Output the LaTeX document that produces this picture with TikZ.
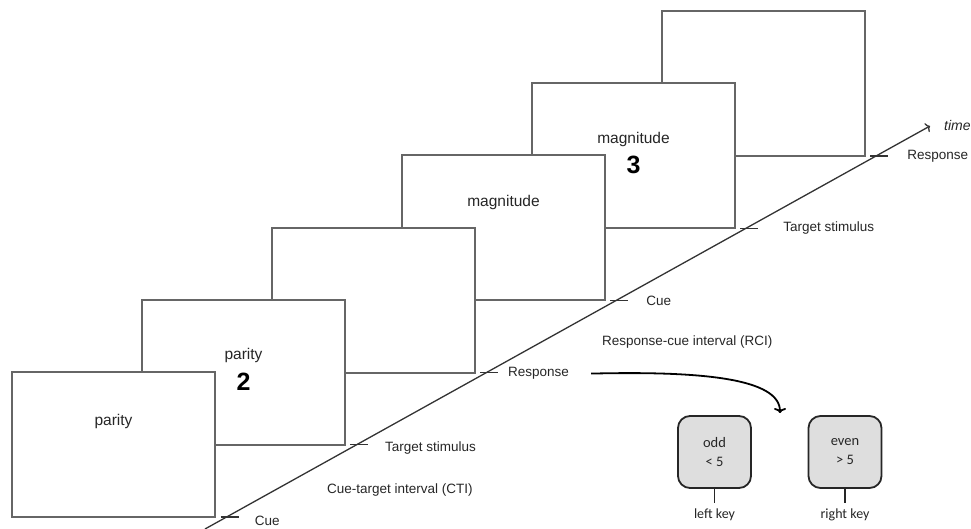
\documentclass[tikz,border=0pt]{standalone}
\usepackage{fontspec}
\setmainfont{Liberation Sans}
\newfontfamily\keyfont{Carlito}
\usetikzlibrary{calc,positioning,arrows.meta}

\tikzset{
  screen/.style={draw=black!60, line width=1.9pt, fill=white, minimum width=203pt, minimum height=145pt, inner sep=0pt},
  cuetext/.style={font=\fontsize{15.5}{18}\selectfont, text=black!85, inner sep=0pt},
  digit/.style={font=\fontsize{25}{28}\selectfont\bfseries, text=black, inner sep=0pt},
  evtlabel/.style={font=\fontsize{13.5}{16}\selectfont, text=black!85, anchor=west, inner sep=0pt},
  timeline/.style={draw=black!80, line width=1.3pt},
  keybox/.style={draw=black!85, line width=1.8pt, fill=black!13, rounded corners=12pt, minimum width=73pt, minimum height=72pt, inner sep=0pt, align=center, font=\keyfont\fontsize{14.5}{19}\selectfont, text=black!85},
  keylabel/.style={font=\keyfont\fontsize{14}{16}\selectfont, text=black!85, anchor=north, inner xsep=2pt, inner ysep=6pt}
}

\begin{document}
\begin{tikzpicture}[x=1pt, y=-1pt]
			%%%%% START %%%%%
			\useasboundingbox (0, 0) rectangle (971, 529);
			
			% screens, back to front
			\node[screen] (s6) at (763.5, 83.5) {};
			\node[screen] (s5) at (633.5, 155.7) {};
			\node[screen] (s4) at (503.5, 227.9) {};
			\node[screen] (s3) at (373.5, 300.1) {};
			\node[screen] (s2) at (243.5, 372.3) {};
			\node[screen] (s1) at (113.5, 444.5) {};
			
			\node[cuetext] (cue1) at ($(s1.north)+(0, 50)$) {parity};
			\node[cuetext] (cue2) at ($(s2.north)+(0, 57)$) {parity};
			\node[digit] (num2) at ($(s2.north)+(0, 83)$) {2};
			\node[cuetext] (cue4) at ($(s4.north)+(0, 48)$) {magnitude};
			\node[cuetext] (cue5) at ($(s5.north)+(0, 57)$) {magnitude};
			\node[digit] (num5) at ($(s5.north)+(0, 83)$) {3};
			
			% time axis
			\draw[timeline, -{To[length=4pt, width=10pt]}] (205, 529) -- (930, 126)
				coordinate[pos=0.0298] (t1)
				coordinate[pos=0.2089] (t2)
				coordinate[pos=0.3881] (t3)
				coordinate[pos=0.5672] (t4)
				coordinate[pos=0.7464] (t5)
				coordinate[pos=0.9256] (t6);
			\foreach \t in {t1, t2, t3, t4, t5, t6}
				\draw[timeline] ($(\t)+(-6, 0)$) -- ($(\t)+(12, 0)$);
			
			\node[evtlabel] (ev1) at ($(t1)+(28, 4)$) {Cue};
			\node[evtlabel] (ev2) at ($(t2)+(28.5, 3)$) {Target stimulus};
			\node[evtlabel] (ev3) at ($(t3)+(21.5, 1)$) {Response};
			\node[evtlabel] (ev4) at ($(t4)+(30, 0)$) {Cue};
			\node[evtlabel] (ev5) at ($(t5)+(37, 0)$) {Target stimulus};
			\node[evtlabel] (ev6) at ($(t6)+(31, 0)$) {Response};
			\node[evtlabel, font=\fontsize{14}{16}\selectfont\itshape] (time) at (944, 125) {time};
			
			\node[evtlabel] (cti) at (327, 490) {Cue-target interval (CTI)};
			\node[evtlabel] (rci) at (602, 342) {Response-cue interval (RCI)};
			
			% response keys
			\node[keybox] (oddkey) at (714.5, 452) {odd\\< 5};
			\node[keybox] (evenkey) at (845, 452) {even\\> 5};
			\node[keylabel] (leftkey) at (714.5, 503) {left key};
			\node[keylabel] (rightkey) at (845, 503) {right key};
			\draw[black!85, line width=1.2pt] (oddkey.south) -- (leftkey.north);
			\draw[black!85, line width=1.2pt] (evenkey.south) -- (rightkey.north);
			
			\coordinate (keygap) at (780, 413);
			\draw[black, line width=1.8pt, -{To[length=5pt, width=12pt]}] ($(ev3.east)+(22, 0)$) .. controls (700, 371) and (780, 378) .. (keygap);
			
			%%%%% END %%%%%
\end{tikzpicture}
\end{document}
